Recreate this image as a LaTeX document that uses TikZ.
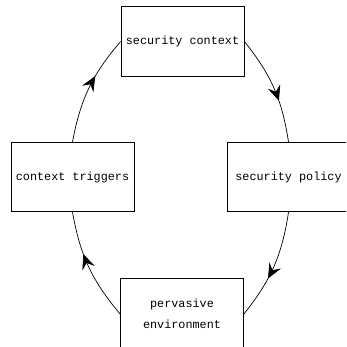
\documentclass[tikz,border=0pt]{standalone}
\usepackage{fontspec}
\setmonofont{Liberation Mono}
\usetikzlibrary{arrows.meta,decorations.markings}
\begin{document}
\begin{tikzpicture}[x=1pt,y=-1pt,
  box/.style={draw,line width=0.8pt,minimum width=123pt,minimum height=69.5pt,inner sep=0pt,align=center,
    font=\ttfamily\fontsize{11.8}{20.5}\selectfont},
  flow/.style={line width=0.7pt, postaction={decorate},
    decoration={markings, mark=at position 0.62 with {\arrow{Stealth[length=15pt,width=13pt,inset=5.5pt]}}}}]
\useasboundingbox (0,0) rectangle (346,347);
\clip (0,0) rectangle (346,347);
\node[box] (ctx) at (182.5,41.5) {security context};
\node[box] (trig) at (72.5,177) {context triggers};
\node[box] (pol) at (288.5,177) {security policy};
\node[box, minimum height=72pt] (env) at (182,314) {pervasive\\environment};
\draw[flow] (ctx.east) to[bend left=15] (pol.north);
\draw[flow] (pol.south) to[bend left=15] (env.east);
\draw[flow] (env.west) to[bend left=15] (trig.south);
\draw[flow] (trig.north) to[bend left=15] (ctx.west);
\end{tikzpicture}
\end{document}
